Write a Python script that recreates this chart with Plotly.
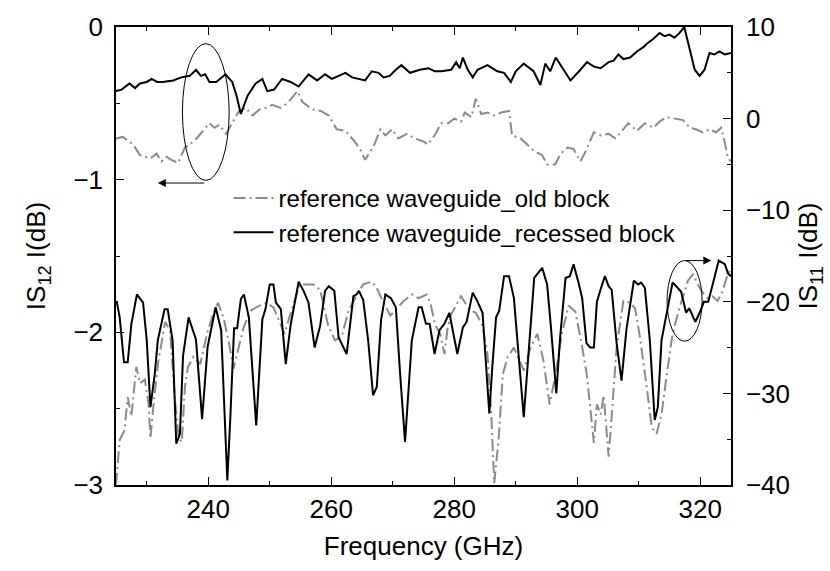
import plotly.graph_objects as go

# ---------------- data ----------------
s12_rec_f = [225.0, 225.9, 227.2, 228.1, 228.9, 230.0, 230.8, 231.7, 232.6, 234.3, 235.6, 237.0, 238.0, 238.8,
             239.5, 240.2, 241.3, 242.8, 243.9, 244.6, 245.3, 246.4, 247.7, 248.8, 249.6, 250.7, 252.0, 253.4,
             254.7, 256.3, 257.7, 259.0, 260.1, 261.2, 262.3, 263.4, 265.5, 266.6, 267.7, 268.5, 269.5, 270.5,
             271.4, 272.8, 274.4, 275.8, 276.8, 277.9, 279.0, 279.5, 280.3, 280.9, 281.4, 282.2, 283.0, 283.8,
             285.4, 287.0, 288.1, 289.2, 290.0, 291.3, 292.9, 294.0, 294.8, 295.6, 296.5, 297.9, 298.9, 300.3,
             301.6, 302.7, 303.8, 305.1, 305.9, 306.7, 307.5, 308.6, 309.7, 310.8, 311.3, 312.3, 313.4, 314.2,
             315.0, 315.8, 316.6, 317.4, 318.3, 319.1, 319.9, 320.7, 321.5, 322.3, 323.1, 324.0, 325.0]
s12_rec_v = [-0.42, -0.41, -0.37, -0.40, -0.37, -0.36, -0.34, -0.36, -0.36, -0.35, -0.33, -0.32, -0.28, -0.32,
             -0.31, -0.36, -0.36, -0.31, -0.36, -0.45, -0.57, -0.45, -0.37, -0.34, -0.42, -0.41, -0.34, -0.36,
             -0.39, -0.31, -0.35, -0.31, -0.34, -0.32, -0.30, -0.33, -0.35, -0.29, -0.30, -0.33, -0.32, -0.28,
             -0.25, -0.30, -0.28, -0.27, -0.29, -0.29, -0.28, -0.28, -0.23, -0.27, -0.20, -0.28, -0.33, -0.28,
             -0.25, -0.29, -0.30, -0.36, -0.29, -0.24, -0.29, -0.38, -0.24, -0.29, -0.20, -0.29, -0.35, -0.29,
             -0.23, -0.26, -0.27, -0.23, -0.22, -0.18, -0.21, -0.20, -0.16, -0.13, -0.11, -0.08, -0.04, -0.06,
             -0.05, -0.07, -0.04, 0.0, -0.16, -0.28, -0.32, -0.28, -0.17, -0.18, -0.16, -0.18, -0.17]

s12_old_f = [225.0, 226.1, 227.8, 228.9, 230.6, 231.6, 232.4, 233.2, 234.0, 235.1, 236.2, 237.0, 238.1, 239.2,
             240.2, 241.0, 241.8, 242.9, 244.0, 245.0, 246.1, 247.2, 248.3, 249.3, 250.4, 251.8, 253.1, 254.5,
             255.3, 256.9, 258.3, 259.6, 260.9, 262.3, 263.6, 264.7, 265.5, 266.9, 268.0, 268.8, 269.9, 270.9,
             272.3, 273.6, 275.0, 275.7, 276.8, 277.9, 279.0, 280.0, 281.1, 281.7, 282.8, 283.5, 284.4, 285.4,
             286.5, 287.6, 288.9, 289.4, 290.8, 291.8, 292.9, 294.3, 295.1, 296.4, 297.3, 298.4, 299.4, 300.5,
             301.3, 302.7, 303.8, 305.1, 306.2, 307.3, 308.3, 309.7, 311.0, 312.4, 313.4, 314.5, 315.8, 317.2,
             318.3, 319.3, 320.4, 321.5, 322.6, 323.4, 324.0, 324.5, 325.0]
s12_old_v = [-0.73, -0.72, -0.77, -0.84, -0.86, -0.83, -0.88, -0.85, -0.87, -0.89, -0.79, -0.77, -0.73, -0.68,
             -0.63, -0.66, -0.64, -0.70, -0.62, -0.55, -0.53, -0.58, -0.54, -0.53, -0.51, -0.53, -0.49, -0.42,
             -0.49, -0.54, -0.55, -0.58, -0.67, -0.68, -0.74, -0.80, -0.87, -0.78, -0.67, -0.71, -0.67, -0.73,
             -0.70, -0.73, -0.75, -0.77, -0.71, -0.63, -0.63, -0.60, -0.62, -0.56, -0.59, -0.47, -0.57, -0.56,
             -0.58, -0.56, -0.55, -0.71, -0.73, -0.77, -0.81, -0.84, -0.90, -0.90, -0.83, -0.79, -0.80, -0.88,
             -0.82, -0.69, -0.71, -0.70, -0.73, -0.68, -0.63, -0.68, -0.63, -0.66, -0.62, -0.59, -0.60, -0.61,
             -0.66, -0.67, -0.69, -0.67, -0.69, -0.66, -0.76, -0.86, -0.88]

s11_rec_f = [225.1, 225.6, 226.3, 226.9, 227.5, 228.4, 229.4, 230.0, 230.6, 231.3, 231.8, 232.9, 233.4, 234.2,
             234.8, 235.4, 235.9, 236.8, 238.0, 239.0, 239.9, 241.2, 242.1, 243.1, 243.6, 244.2, 244.7, 245.3,
             245.8, 246.6, 247.8, 248.8, 249.3, 250.0, 250.6, 251.0, 251.8, 252.6, 253.4, 254.7, 255.5, 256.3,
             257.3, 258.2, 259.0, 259.6, 260.5, 261.2, 262.5, 263.6, 264.1, 264.5, 265.2, 266.0, 266.8, 267.4,
             268.1, 268.8, 269.7, 270.5, 271.2, 272.0, 273.1, 274.2, 274.7, 275.4, 276.0, 276.8, 277.6, 278.4,
             279.2, 279.8, 280.5, 281.4, 282.0, 283.0, 283.8, 284.6, 285.7, 286.2, 286.8, 287.3, 288.1, 288.9,
             289.7, 291.3, 292.1, 293.0, 294.3, 295.1, 295.7, 296.6, 297.2, 298.1, 298.8, 299.4, 300.2, 300.8,
             301.5, 302.1, 302.7, 303.2, 304.0, 304.5, 305.1, 305.6, 306.4, 307.2, 308.0, 309.2, 309.9, 310.4,
             311.0, 311.8, 312.6, 313.1, 313.7, 314.5, 315.5, 316.1, 316.9, 317.7, 318.2, 319.2, 319.9, 320.6,
             321.3, 322.1, 323.0, 324.0, 324.5, 325.0]
s11_rec_v = [-19.9, -21.7, -26.6, -26.6, -22.4, -19.2, -20.1, -24.2, -31.5, -27.9, -24.2, -20.8, -20.8, -24.2,
             -35.5, -34.4, -25.9, -21.7, -24.1, -32.8, -24.9, -20.6, -23.1, -39.5, -32.5, -22.9, -22.9, -19.7,
             -19.2, -21.7, -33.5, -21.9, -20.8, -18.1, -18.1, -20.1, -20.8, -26.8, -22.5, -17.8, -18.8, -20.1,
             -25.0, -22.6, -18.8, -18.3, -18.8, -23.9, -25.7, -19.4, -19.2, -18.8, -19.8, -24.2, -30.2, -29.3,
             -22.0, -19.2, -19.6, -20.6, -27.9, -35.3, -24.2, -20.6, -20.6, -22.4, -22.4, -25.7, -23.1, -22.4,
             -21.2, -23.2, -25.7, -22.8, -22.2, -19.0, -20.0, -21.2, -32.2, -27.0, -21.7, -21.0, -17.2, -17.2,
             -19.6, -32.6, -25.0, -17.4, -16.3, -18.1, -22.6, -30.0, -24.0, -17.4, -17.2, -15.9, -17.9, -19.6,
             -24.5, -25.0, -25.0, -20.0, -18.2, -17.2, -18.3, -18.7, -24.5, -28.6, -23.0, -17.7, -18.1, -17.9,
             -18.5, -24.2, -32.9, -31.5, -24.2, -21.2, -17.9, -18.3, -18.9, -21.2, -20.7, -22.2, -21.2, -20.0,
             -20.0, -17.9, -15.5, -15.9, -16.9, -17.2]

s11_old_f = [225.0, 225.6, 226.4, 226.9, 227.5, 228.3, 228.9, 229.7, 230.3, 230.6, 231.1, 231.9, 233.0, 233.8,
             234.6, 235.2, 235.7, 236.2, 236.7, 237.6, 238.7, 239.8, 240.8, 241.6, 242.5, 243.3, 244.1, 244.9,
             245.7, 246.8, 248.1, 249.5, 250.6, 251.6, 252.4, 253.5, 254.9, 256.0, 257.1, 258.2, 259.5, 260.6,
             261.7, 262.8, 264.2, 265.2, 266.6, 267.4, 268.5, 269.6, 270.7, 271.8, 273.1, 274.2, 275.5, 276.1,
             276.9, 277.7, 278.4, 278.9, 279.4, 280.0, 281.1, 282.5, 283.5, 284.6, 285.4, 286.0, 286.5, 287.2,
             287.9, 288.7, 289.7, 291.3, 292.4, 293.5, 294.5, 295.5, 296.4, 297.5, 298.6, 299.7, 300.8, 301.6,
             302.1, 302.7, 303.2, 303.8, 304.3, 305.1, 305.6, 306.4, 307.5, 308.6, 309.4, 310.2, 311.3, 312.1,
             312.9, 313.7, 314.5, 315.5, 316.6, 318.0, 318.8, 319.6, 320.4, 321.2, 322.0, 322.8, 323.6, 324.5,
             325.0]
s11_old_v = [-40.0, -35.1, -34.0, -30.4, -32.5, -27.1, -28.9, -28.5, -31.2, -34.9, -31.2, -26.4, -22.2, -23.2,
             -30.8, -34.9, -35.3, -29.3, -27.1, -26.0, -26.8, -23.5, -21.3, -20.1, -21.8, -24.2, -27.3, -25.0,
             -22.9, -21.0, -20.5, -20.1, -20.6, -22.2, -23.5, -21.0, -18.1, -18.1, -18.1, -18.7, -22.6, -24.2,
             -23.8, -21.0, -19.2, -18.1, -17.8, -18.5, -20.1, -21.5, -20.7, -19.9, -19.2, -19.6, -19.2, -20.1,
             -22.5, -23.5, -25.7, -23.0, -21.5, -20.7, -19.4, -20.9, -21.2, -22.6, -25.7, -32.0, -39.8, -35.1,
             -27.9, -26.0, -25.0, -27.5, -25.0, -23.5, -26.4, -31.2, -28.2, -23.5, -20.4, -21.1, -24.9, -28.2,
             -31.5, -35.4, -31.2, -32.3, -30.2, -36.9, -32.5, -25.0, -19.9, -20.1, -20.7, -23.9, -29.3, -33.7,
             -34.4, -32.3, -28.2, -23.5, -20.7, -17.7, -17.0, -18.1, -19.0, -19.6, -19.4, -19.9, -18.9, -16.9,
             -16.5]

legend_names = ["reference waveguide_old block", "reference waveguide_recessed block"]

# annotation geometry (data coordinates)
ellipse_left = dict(x0=235.8, x1=243.4, y0=-1.005, y1=-0.109)      # on left axis
arrow_left = dict(x_tail=239.6, x_head=231.8, y=-1.022)
ellipse_right = dict(x0=314.6, x1=320.3, y0=-24.3, y1=-15.5)      # on right axis
arrow_right = dict(x_tail=317.4, x_head=321.8, y=-15.5)

FONT = "Liberation Sans, Arial, sans-serif"
GRAY = "#8a8a8a"
DASHDOT = "12px,4px,2px,4px"
FS = 26

fig = go.Figure()
fig.add_trace(go.Scatter(x=s12_old_f, y=s12_old_v, mode="lines", yaxis="y",
                         line=dict(color=GRAY, width=2, dash=DASHDOT),
                         name=legend_names[0], showlegend=True))
fig.add_trace(go.Scatter(x=s12_rec_f, y=s12_rec_v, mode="lines", yaxis="y",
                         line=dict(color="black", width=2),
                         name=legend_names[1], showlegend=True))
fig.add_trace(go.Scatter(x=s11_old_f, y=s11_old_v, mode="lines", yaxis="y2",
                         line=dict(color=GRAY, width=2, dash=DASHDOT),
                         name=legend_names[0], showlegend=False))
fig.add_trace(go.Scatter(x=s11_rec_f, y=s11_rec_v, mode="lines", yaxis="y2",
                         line=dict(color="black", width=2),
                         name=legend_names[1], showlegend=False))

fig.add_shape(type="circle", xref="x", yref="y", line=dict(color="black", width=1), **ellipse_left)
fig.add_shape(type="circle", xref="x", yref="y2", line=dict(color="black", width=1), **ellipse_right)
fig.add_annotation(x=arrow_left["x_head"], y=arrow_left["y"], ax=arrow_left["x_tail"], ay=arrow_left["y"],
                   xref="x", yref="y", axref="x", ayref="y", text="", showarrow=True,
                   arrowhead=2, arrowsize=1.6, arrowwidth=1, arrowcolor="black")
fig.add_annotation(x=arrow_right["x_head"], y=arrow_right["y"], ax=arrow_right["x_tail"], ay=arrow_right["y"],
                   xref="x", yref="y2", axref="x", ayref="y2", text="", showarrow=True,
                   arrowhead=2, arrowsize=1.6, arrowwidth=1, arrowcolor="black")

axis_common = dict(showgrid=False, zeroline=False, showline=True, linecolor="black", linewidth=1.5,
                   ticks="inside", ticklen=8, tickwidth=1.2, tickcolor="black",
                   tickfont=dict(family=FONT, size=FS, color="black"))

fig.update_layout(
    width=830, height=571,
    margin=dict(l=116, r=95, t=25, b=86),
    paper_bgcolor="white", plot_bgcolor="white",
    font=dict(family=FONT, size=FS, color="black"),
    xaxis=dict(range=[225, 325], dtick=20, tick0=0, mirror="ticks",
               minor=dict(dtick=10, ticks="inside", ticklen=4, tickcolor="black", tickwidth=1.2),
               title=dict(text="Frequency (GHz)", font=dict(family=FONT, size=FS), standoff=14),
               ticklabelstandoff=0, **axis_common),
    yaxis=dict(range=[-3, 0], dtick=1, tick0=0,
               minor=dict(dtick=0.5, ticks="inside", ticklen=4, tickcolor="black", tickwidth=1.2),
               title=dict(text="IS<sub>12</sub> I(dB)", font=dict(family=FONT, size=FS), standoff=20),
               ticklabelstandoff=6, **axis_common),
    yaxis2=dict(range=[-40, 10], dtick=10, tick0=0, overlaying="y", side="right",
                minor=dict(dtick=5, ticks="inside", ticklen=4, tickcolor="black", tickwidth=1.2),
                title=dict(text="IS<sub>11</sub> I(dB)", font=dict(family=FONT, size=FS), standoff=10),
                ticklabelstandoff=8, **axis_common),
    legend=dict(x=0.183, y=0.675, xanchor="left", yanchor="top", bgcolor="rgba(0,0,0,0)",
                borderwidth=0, font=dict(family=FONT, size=24, color="black"),
                tracegroupgap=0, itemwidth=40),
    showlegend=True,
)

fig.write_html("out.html")
